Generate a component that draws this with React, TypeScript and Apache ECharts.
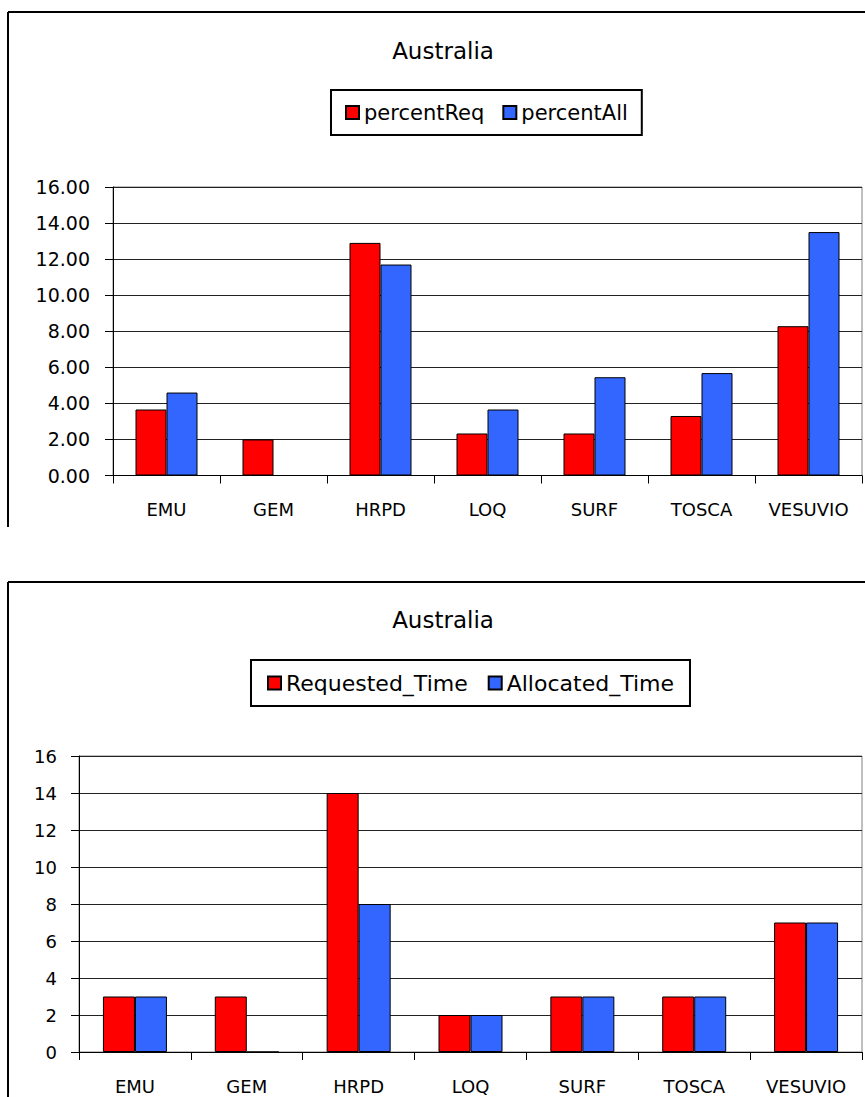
import React, { useEffect, useRef } from "react";
import * as echarts from "echarts";

const categories = ["EMU", "GEM", "HRPD", "LOQ", "SURF", "TOSCA", "VESUVIO"];
const percentReq = [3.66, 2.0, 12.9, 2.33, 2.33, 3.3, 8.28];
const percentAll = [4.6, 0, 11.7, 3.66, 5.45, 5.68, 13.5];
const requestedTime = [3, 3, 14, 2, 3, 3, 7];
const allocatedTime = [3, 0, 8, 2, 3, 3, 7];
const chartTitle = "Australia";

const FONT = "DejaVu Sans";
const RED = "#FF0000";
const BLUE = "#3366FF";

export default function App() {
  const ref = useRef<HTMLDivElement>(null);
  useEffect(() => {
    if (!ref.current) return;
    const chart = echarts.init(ref.current, undefined, { renderer: "svg" });
    const axisCommon = (gridIndex: number) => ({
      type: "category" as const,
      gridIndex,
      data: categories,
      axisLine: { lineStyle: { color: "#000", width: 1 } },
      axisTick: { show: true, length: 8, lineStyle: { color: "#000" } },
      axisLabel: { color: "#000", fontFamily: FONT, fontSize: 18, margin: 25 },
    });
    const yCommon = (gridIndex: number, fs: number, margin: number, fmt: (v: number) => string) => ({
      type: "value" as const,
      gridIndex,
      min: 0,
      max: 16,
      interval: 2,
      axisLine: { show: true, lineStyle: { color: "#000", width: 1 } },
      axisTick: { show: true, length: 8, lineStyle: { color: "#000" } },
      axisLabel: { color: "#000", fontFamily: FONT, fontSize: fs, margin, formatter: fmt },
      splitLine: { show: true, lineStyle: { color: "#222", width: 1 } },
    });
    const barCommon = (color: string, xi: number, width: number) => ({
      type: "bar" as const,
      xAxisIndex: xi,
      yAxisIndex: xi,
      barWidth: width,
      barGap: "0%",
      itemStyle: { color, borderColor: "#000", borderWidth: 1 },
    });
    chart.setOption({
      animation: false,
      backgroundColor: "#fff",
      grid: [
        { left: 113, top: 187, width: 749, height: 288.5, show: true, borderColor: "#808080", borderWidth: 1 },
        { left: 79, top: 756, width: 783, height: 296, show: true, borderColor: "#808080", borderWidth: 1 },
      ],
      xAxis: [axisCommon(0), axisCommon(1)],
      yAxis: [
        yCommon(0, 19, 23, (v: number) => v.toFixed(2)),
        yCommon(1, 18, 22, (v: number) => String(v)),
      ],
      legend: [
        {
          data: ["percentReq", "percentAll"],
          left: 331,
          top: 90,
          padding: [12, 14],
          itemWidth: 13,
          itemHeight: 13,
          itemGap: 18,
          borderColor: "#000",
          borderWidth: 2,
          icon: "rect",
          textStyle: { color: "#000", fontFamily: FONT, fontSize: 21 },
        },
        {
          data: ["Requested_Time", "Allocated_Time"],
          left: 251,
          top: 660,
          padding: [12, 16],
          itemWidth: 13,
          itemHeight: 13,
          itemGap: 20,
          borderColor: "#000",
          borderWidth: 2,
          icon: "rect",
          textStyle: { color: "#000", fontFamily: FONT, fontSize: 22 },
        },
      ],
      series: [
        { name: "percentReq", data: percentReq, ...barCommon(RED, 0, 31) },
        { name: "percentAll", data: percentAll, ...barCommon(BLUE, 0, 31) },
        { name: "Requested_Time", data: requestedTime, ...barCommon(RED, 1, 32) },
        { name: "Allocated_Time", data: allocatedTime, ...barCommon(BLUE, 1, 32) },
      ],
      graphic: [
        { type: "line", shape: { x1: 8, y1: 12, x2: 865, y2: 12 }, style: { stroke: "#000", lineWidth: 2 } },
        { type: "line", shape: { x1: 8, y1: 12, x2: 8, y2: 527 }, style: { stroke: "#000", lineWidth: 2 } },
        { type: "line", shape: { x1: 8, y1: 582, x2: 865, y2: 582 }, style: { stroke: "#000", lineWidth: 2 } },
        { type: "line", shape: { x1: 8, y1: 582, x2: 8, y2: 1097 }, style: { stroke: "#000", lineWidth: 2 } },
        {
          type: "text",
          x: 443,
          y: 51,
          style: { text: chartTitle, align: "center", verticalAlign: "middle", fill: "#000", fontFamily: FONT, fontSize: 23 },
        },
        {
          type: "text",
          x: 443,
          y: 620,
          style: { text: chartTitle, align: "center", verticalAlign: "middle", fill: "#000", fontFamily: FONT, fontSize: 23 },
        },
      ],
    });
    return () => chart.dispose();
  }, []);
  return <div ref={ref} style={{ position: "absolute", left: 0, top: 0, width: 865, height: 1097 }} />;
}
